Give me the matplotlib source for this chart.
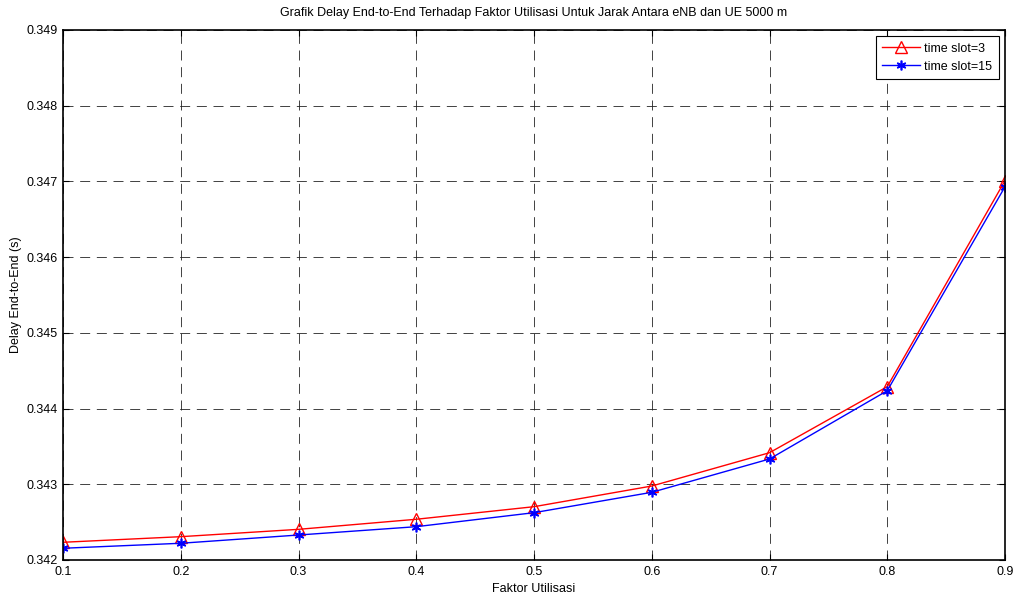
import matplotlib
matplotlib.use("Agg")
import matplotlib.pyplot as plt

plt.rcParams['font.family'] = ['Liberation Sans', 'DejaVu Sans']

x = [0.1, 0.2, 0.3, 0.4, 0.5, 0.6, 0.7, 0.8, 0.9]
delay_ts3 = [0.342234, 0.342308, 0.342405, 0.342538, 0.342704, 0.342977, 0.343417, 0.344289, 0.347010]
delay_ts15 = [0.342155, 0.342221, 0.342330, 0.342440, 0.342625, 0.342894, 0.343334, 0.344236, 0.346930]
xticks = [0.1, 0.2, 0.3, 0.4, 0.5, 0.6, 0.7, 0.8, 0.9]
yticks = [0.342, 0.343, 0.344, 0.345, 0.346, 0.347, 0.348, 0.349]

fig = plt.figure(figsize=(10.19, 5.98), dpi=100)
ax = fig.add_axes([63/1019, 38/598, (1005-63)/1019, (560-30)/598])

ax.plot(x, delay_ts3, color='red', linewidth=1, marker='^', markersize=8,
        markerfacecolor='none', markeredgecolor='red', label='time slot=3')
ax.plot(x, delay_ts15, color='blue', linewidth=1, marker=(6, 2, 0), markersize=7,
        markeredgewidth=1.2, markerfacecolor='blue', markeredgecolor='blue', label='time slot=15')

ax.set_xlim(0.1, 0.9)
ax.set_ylim(0.342, 0.349)
ax.set_xticks(xticks)
ax.set_xticklabels([f"{v:g}" for v in xticks])
ax.set_yticks(yticks)
ax.set_yticklabels([f"{v:.3f}" for v in yticks])
ax.tick_params(direction='in', labelsize=9, length=4, top=True, right=True, pad=4)
ax.grid(True, color='#222222', linestyle=(0, (12, 8)), linewidth=0.6)
for s in ax.spines.values():
    s.set_linewidth(1.2)

ax.set_title('Grafik Delay End-to-End Terhadap Faktor Utilisasi Untuk Jarak Antara eNB dan UE 5000 m',
             fontsize=9, pad=10)
ax.set_xlabel('Faktor Utilisasi', fontsize=9, labelpad=4)
ax.set_ylabel('Delay End-to-End (s)', fontsize=9, labelpad=3)

leg = ax.legend(loc='upper right', fontsize=9, fancybox=False, framealpha=1,
                edgecolor='black', borderaxespad=0.5, handlelength=3.0,
                handletextpad=0.4, borderpad=0.5, labelspacing=0.5)
leg.get_frame().set_linewidth(0.8)

fig.savefig('out.png', dpi=100)
